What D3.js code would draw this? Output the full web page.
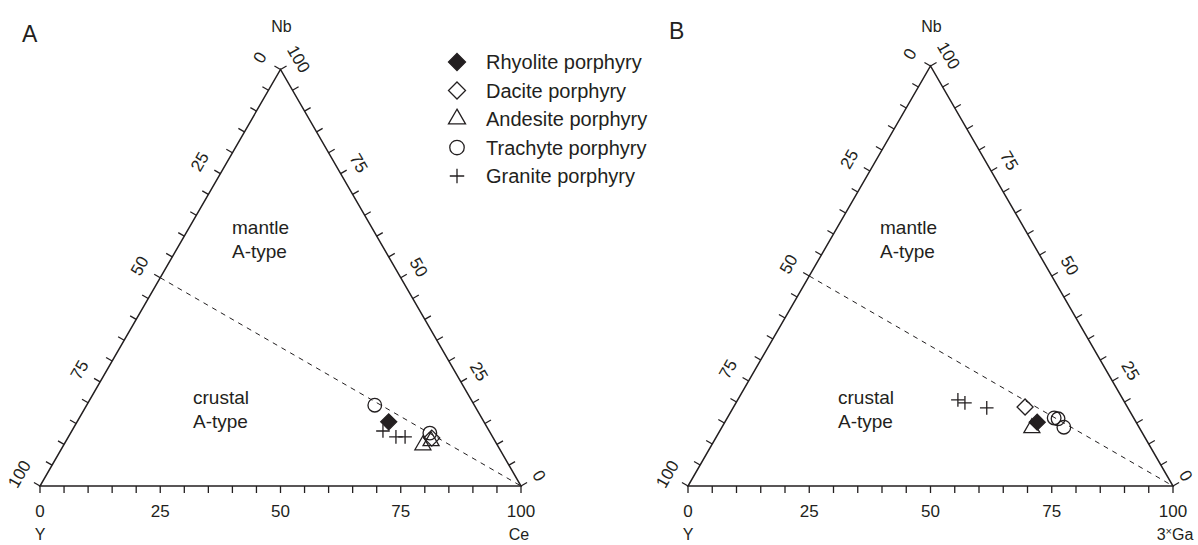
<!DOCTYPE html>
<html>
<head>
<meta charset="utf-8">
<script src="https://cdn.jsdelivr.net/npm/d3@7"></script>
<style>
  body { margin: 0; background: #fff; }
  text { font-family: Arial, "Liberation Sans", sans-serif; fill: #231f20; }
</style>
</head>
<body>
<svg id="chart" width="1198" height="545"></svg>
<script>
// Ternary compositions are stored as [Y, Nb, corner] percentages,
// where corner is Ce (panel A) or 3×Ga (panel B).

const tickLabels = [0, 25, 50, 75, 100];
const minorTicks = d3.range(0, 101, 5);
const seriesNames = ["Rhyolite porphyry", "Dacite porphyry", "Andesite porphyry", "Trachyte porphyry", "Granite porphyry"];
const seriesShapes = ["diamondFilled", "diamond", "triangle", "circle", "cross"];

// Boundary between mantle- and crust-derived A-type granites
const dividerLine = [[50, 50, 0], [0, 0, 100]];

// Panel A: Nb–Y–Ce
const rhyoliteA = [[19.8, 15.4, 64.8]];
const daciteA = [[12.8, 11.5, 75.7]];
const andesiteA = [[15.5, 9.8, 74.7], [13.3, 10.8, 75.9]];
const trachyteA = [[20.7, 19.4, 59.9], [12.6, 12.7, 74.7]];
const graniteA = [[22.1, 13.2, 64.7], [20.1, 11.8, 68.1], [18.2, 11.8, 70.0]];

// Panel B: Nb–Y–3×Ga
const rhyoliteB = [[20.4, 15.2, 64.4]];
const daciteB = [[21.1, 18.8, 60.1]];
const andesiteB = [[22.2, 13.8, 64.0]];
const trachyteB = [[16.4, 16.2, 67.4], [15.7, 16.0, 68.3], [15.5, 14.0, 70.5]];
const graniteB = [[34.1, 20.5, 45.4], [33.0, 19.8, 47.2], [29.1, 18.6, 52.3]];

const svg = d3.select("#chart");
const INK = "#231f20";
const WIDTH = 1198;

function symbolPath(shape, s) {
  switch (shape) {
    case "diamondFilled":
    case "diamond":
      return `M0,${-s}L${s},0L0,${s}L${-s},0Z`;
    case "triangle":
      return d3.symbol(d3.symbolTriangle, 0.433 * (2 * s) * (2 * s))();
    case "circle":
      return d3.symbol(d3.symbolCircle, Math.PI * (s * 0.85) * (s * 0.85))();
    case "cross":
      return `M${-s * 0.85},0H${s * 0.85}M0,${-s * 0.85}V${s * 0.85}`;
  }
}

function drawSymbol(g, shape, x, y, s) {
  g.append("path")
    .attr("d", symbolPath(shape, s))
    .attr("transform", `translate(${x},${y})`)
    .attr("fill", shape === "diamondFilled" ? INK : "none")
    .attr("stroke", INK)
    .attr("stroke-width", 1.3);
}

function drawPanel(opt) {
  const g = svg.append("g");
  const side = opt.right - opt.left;
  const height = side * Math.sqrt(3) / 2;
  const xs = d3.scaleLinear().domain([0, 100]).range([opt.left, opt.right]);
  const ys = d3.scaleLinear().domain([0, 100]).range([opt.base, opt.base - height]);
  const px = d => {
    const t = d[0] + d[1] + d[2];
    const nb = d[1] / t * 100, c = d[2] / t * 100;
    return [xs(c + nb / 2), ys(nb)];
  };

  // frame
  const corners = [[100, 0, 0], [0, 0, 100], [0, 100, 0]].map(px);
  g.append("path")
    .attr("d", d3.line()(corners) + "Z")
    .attr("fill", "none").attr("stroke", INK).attr("stroke-width", 1.5)
    .attr("stroke-linejoin", "miter");

  // dashed discrimination line
  g.append("path")
    .attr("d", d3.line()(dividerLine.map(px)))
    .attr("fill", "none").attr("stroke", INK).attr("stroke-width", 1)
    .attr("stroke-dasharray", "5,5");

  const tl = 7, offL = 24, offR = 21;
  const c30 = Math.cos(Math.PI / 6), s30 = 0.5;

  minorTicks.forEach(v => {
    // bottom axis: corner component
    const b = px([100 - v, 0, v]);
    g.append("line").attr("x1", b[0]).attr("y1", b[1]).attr("x2", b[0]).attr("y2", b[1] + tl)
      .attr("stroke", INK).attr("stroke-width", 1.3);
    // left axis: Y
    const l = px([v, 100 - v, 0]);
    g.append("line").attr("x1", l[0]).attr("y1", l[1]).attr("x2", l[0] - tl * c30).attr("y2", l[1] - tl * s30)
      .attr("stroke", INK).attr("stroke-width", 1.3);
    // right axis: Nb
    const r = px([0, v, 100 - v]);
    g.append("line").attr("x1", r[0]).attr("y1", r[1]).attr("x2", r[0] + tl * c30).attr("y2", r[1] - tl * s30)
      .attr("stroke", INK).attr("stroke-width", 1.3);
  });

  tickLabels.forEach(v => {
    const b = px([100 - v, 0, v]);
    g.append("text").attr("x", b[0]).attr("y", b[1] + 31)
      .attr("text-anchor", "middle").attr("font-size", 17).text(v);
    const l = px([v, 100 - v, 0]);
    const lx = l[0] - offL * c30, ly = l[1] - offL * s30;
    g.append("text").attr("transform", `translate(${lx},${ly}) rotate(-60)`)
      .attr("text-anchor", "middle").attr("dy", "0.35em").attr("font-size", 17).text(v);
    const r = px([0, v, 100 - v]);
    // keep the corner label inside the page edge
    const rx = Math.min(r[0] + offR * c30, WIDTH - 12), ry = r[1] - offR * s30;
    g.append("text").attr("transform", `translate(${rx},${ry}) rotate(60)`)
      .attr("text-anchor", "middle").attr("dy", "0.35em").attr("font-size", 17).text(v);
  });

  // apex and corner names
  const top = px([0, 100, 0]);
  g.append("text").attr("x", top[0] + 1).attr("y", 32).attr("text-anchor", "middle").attr("font-size", 16).text("Nb");
  g.append("text").attr("x", opt.left).attr("y", 540).attr("text-anchor", "middle").attr("font-size", 16).text("Y");
  const cn = g.append("text").attr("x", opt.right + opt.cornerDx).attr("y", 540).attr("text-anchor", "middle").attr("font-size", 16);
  opt.cornerName(cn);

  // panel letter
  g.append("text").attr("x", opt.letterX).attr("y", opt.letterY).attr("font-size", 23).text(opt.letter);

  // field names
  [["mantle", "A-type", opt.mantle], ["crustal", "A-type", opt.crustal]].forEach(([a, b, p]) => {
    g.append("text").attr("x", p[0]).attr("y", p[1]).attr("font-size", 19).text(a);
    g.append("text").attr("x", p[0]).attr("y", p[1] + 24).attr("font-size", 19).text(b);
  });

  // samples
  opt.series.forEach((pts, i) => {
    pts.forEach(d => {
      const p = px(d);
      drawSymbol(g, seriesShapes[i], p[0], p[1], 8);
    });
  });
}

drawPanel({
  left: 40, right: 521, base: 486,
  letter: "A", letterX: 22, letterY: 42,
  mantle: [232, 234], crustal: [193, 404],
  cornerDx: -2,
  cornerName: t => t.text("Ce"),
  series: [rhyoliteA, daciteA, andesiteA, trachyteA, graniteA]
});

drawPanel({
  left: 688, right: 1173, base: 486,
  letter: "B", letterX: 669, letterY: 39,
  mantle: [880, 234], crustal: [838, 404],
  cornerDx: 2,
  cornerName: t => {
    t.append("tspan").text("3");
    t.append("tspan").attr("font-size", 11).attr("dy", -5).text("×");
    t.append("tspan").attr("dy", 5).text("Ga");
  },
  series: [rhyoliteB, daciteB, andesiteB, trachyteB, graniteB]
});

// legend
const legend = svg.append("g");
seriesNames.forEach((name, i) => {
  const y = 62 + i * 28.5;
  drawSymbol(legend, seriesShapes[i], 457, y, 8.5);
  legend.append("text").attr("x", 486).attr("y", y + 7).attr("font-size", 20).text(name);
});
</script>
</body>
</html>
